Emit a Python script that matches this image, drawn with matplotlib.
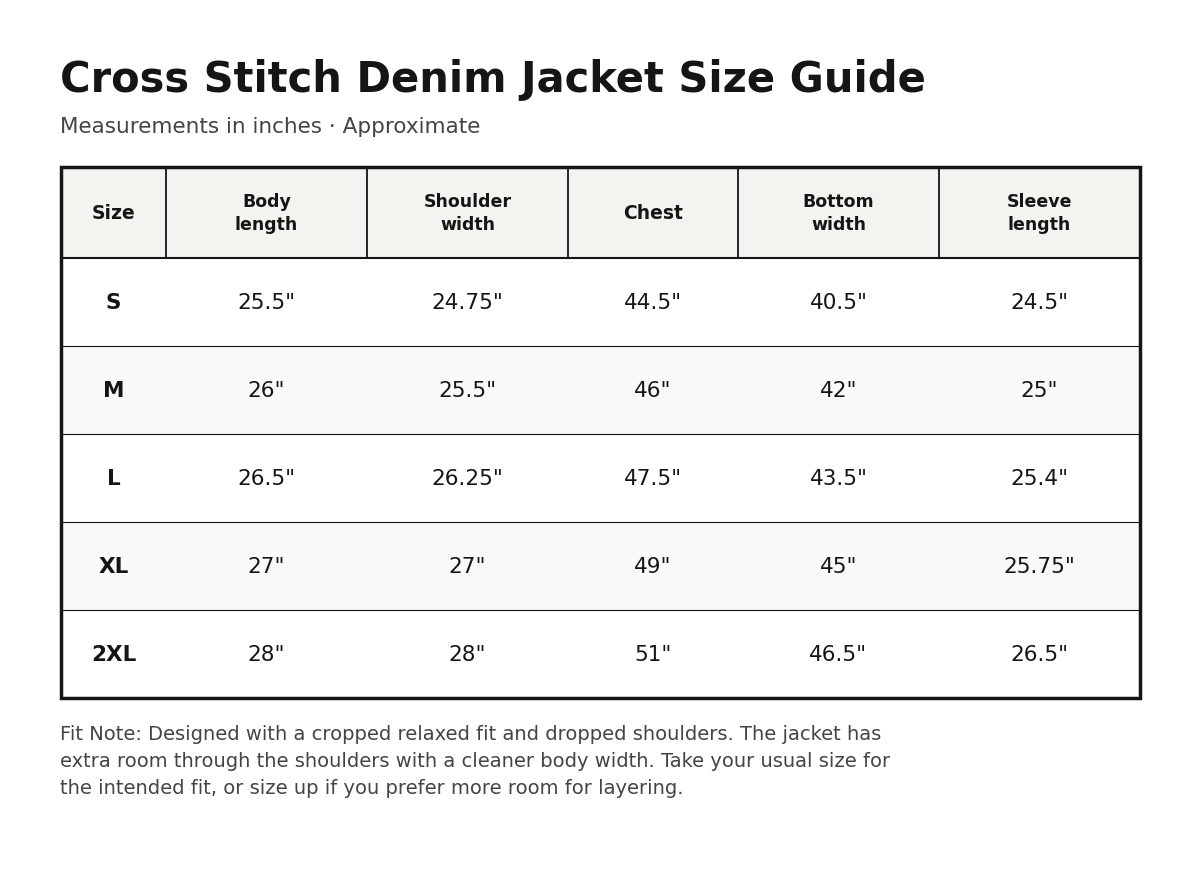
import matplotlib
matplotlib.use("Agg")
import matplotlib.pyplot as plt
from matplotlib.patches import Rectangle

headers = ["Size", "Body\nlength", "Shoulder\nwidth", "Chest", "Bottom\nwidth", "Sleeve\nlength"]
sizes = ["S", "M", "L", "XL", "2XL"]
body_length = ['25.5"', '26"', '26.5"', '27"', '28"']
shoulder_width = ['24.75"', '25.5"', '26.25"', '27"', '28"']
chest = ['44.5"', '46"', '47.5"', '49"', '51"']
bottom_width = ['40.5"', '42"', '43.5"', '45"', '46.5"']
sleeve_length = ['24.5"', '25"', '25.4"', '25.75"', '26.5"']

columns = [sizes, body_length, shoulder_width, chest, bottom_width, sleeve_length]

fig = plt.figure(figsize=(12, 8.78), dpi=100)
ax = fig.add_axes([0, 0, 1, 1])
ax.set_xlim(0, 1200)
ax.set_ylim(878, 0)
ax.axis("off")

col_x = [61, 166, 367, 568, 738, 939, 1140]
top, head_bot, row_h = 168, 259, 88
dark = "#151515"

fig.text(60 / 1200, 1 - 80 / 878, "Cross Stitch Denim Jacket Size Guide",
         fontsize=30, fontweight="bold", color=dark, va="center")
fig.text(60 / 1200, 1 - 127 / 878, "Measurements in inches · Approximate",
         fontsize=15.5, color="#444444", va="center")

# header
ax.add_patch(Rectangle((col_x[0], top), col_x[-1] - col_x[0], head_bot - top,
                       facecolor="#f3f4ef", edgecolor="none"))
for i, h in enumerate(headers):
    cx = (col_x[i] + col_x[i + 1]) / 2
    ax.text(cx, (top + head_bot) / 2, h, ha="center", va="center",
            fontsize=12.5 if "\n" in h else 13.5, fontweight="bold", color=dark,
            linespacing=1.3)
for x in col_x[1:-1]:
    ax.plot([x, x], [top, head_bot], color=dark, lw=1.3)
ax.plot([col_x[0], col_x[-1]], [head_bot, head_bot], color=dark, lw=1.5)

# rows
for r in range(len(sizes)):
    y0 = head_bot + r * row_h
    if r % 2 == 1:
        ax.add_patch(Rectangle((col_x[0], y0), col_x[-1] - col_x[0], row_h,
                               facecolor="#f9f9f7", edgecolor="none"))
    if r > 0:
        ax.plot([col_x[0], col_x[-1]], [y0, y0], color=dark, lw=0.8)
    for c, vals in enumerate(columns):
        cx = (col_x[c] + col_x[c + 1]) / 2
        ax.text(cx, y0 + row_h / 2, vals[r], ha="center", va="center",
                fontsize=15.5, color=dark, fontweight="bold" if c == 0 else "normal")

bottom = head_bot + len(sizes) * row_h
ax.add_patch(Rectangle((col_x[0], top), col_x[-1] - col_x[0], bottom - top,
                       facecolor="none", edgecolor=dark, lw=2.5))

note = ("Fit Note: Designed with a cropped relaxed fit and dropped shoulders. The jacket has\n"
        "extra room through the shoulders with a cleaner body width. Take your usual size for\n"
        "the intended fit, or size up if you prefer more room for layering.")
ax.text(60, 725, note, ha="left", va="top", fontsize=14, color="#444444", linespacing=1.55)

fig.savefig("out.png", dpi=100, facecolor="white")
